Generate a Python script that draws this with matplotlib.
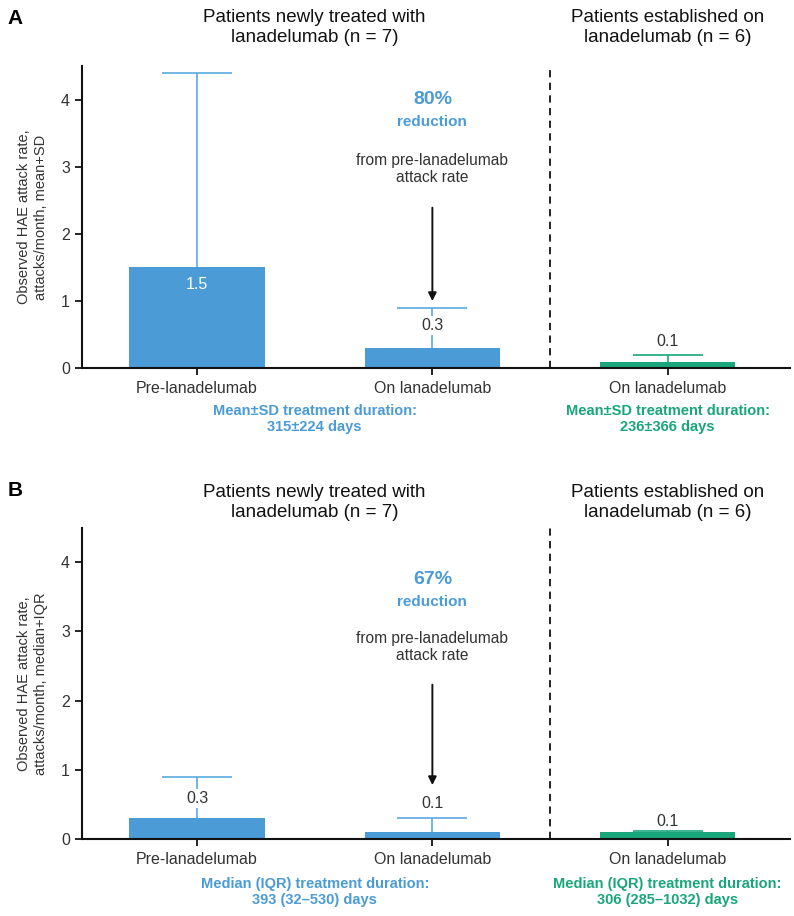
import matplotlib
matplotlib.use("Agg")
import matplotlib.pyplot as plt
import numpy as np

plt.rcParams['font.family'] = ['Liberation Sans', 'DejaVu Sans']

categories = ['Pre-lanadelumab', 'On lanadelumab', 'On lanadelumab']
mean_a = [1.5, 0.3, 0.1]
sd_upper_a = [4.4, 0.9, 0.2]
median_b = [0.3, 0.1, 0.1]
iqr_upper_b = [0.9, 0.3, 0.11]
value_labels_a = ['1.5', '0.3', '0.1']
value_labels_b = ['0.3', '0.1', '0.1']
reduction_a = '80%'
reduction_b = '67%'
group_titles = ['Patients newly treated with\nlanadelumab (n = 7)',
                'Patients established on\nlanadelumab (n = 6)']
duration_a = ['Mean\u00b1SD treatment duration:\n315\u00b1224 days',
              'Mean\u00b1SD treatment duration:\n236\u00b1366 days']
duration_b = ['Median (IQR) treatment duration:\n393 (32\u2013530) days',
              'Median (IQR) treatment duration:\n306 (285\u20131032) days']
ylabel_a = 'Observed HAE attack rate,\nattacks/month, mean+SD'
ylabel_b = 'Observed HAE attack rate,\nattacks/month, median+IQR'

BLUE = '#4a9bd6'
ERR_BLUE = '#5aaae2'
GREEN = '#19a67a'
DARK = '#333333'
bar_colors = [BLUE, BLUE, GREEN]
err_colors = [ERR_BLUE, ERR_BLUE, GREEN]

fig = plt.figure(figsize=(7.94, 9.16), dpi=100)
axA = fig.add_axes([0.103, 0.598, 0.892, 0.330])
axB = fig.add_axes([0.103, 0.084, 0.892, 0.340])

x = np.arange(len(categories))


def draw(ax, vals, uppers, labels, label_y, label_white, label_bg, red_txt, red_y,
         title_y, dur_txt, dur_y, ylabel):
    ax.bar(x, vals, width=0.575, color=bar_colors, zorder=2)
    for i in range(len(x)):
        eb = ax.errorbar(x[i], vals[i], yerr=[[0], [uppers[i] - vals[i]]], fmt='none',
                         ecolor=err_colors[i], elinewidth=1.2, capsize=25,
                         capthick=1.2, zorder=3)
        caps = eb[1]
        if len(caps) > 1:
            caps[0].set_visible(False)
        kw = dict(ha='center', va='center', fontsize=11.5, zorder=5)
        if label_white[i]:
            ax.text(x[i], label_y[i], labels[i], color='white', **kw)
        elif label_bg[i]:
            ax.text(x[i], label_y[i], labels[i], color=DARK,
                    bbox=dict(facecolor='white', edgecolor='none', pad=1.5), **kw)
        else:
            ax.text(x[i], label_y[i], labels[i], color=DARK, **kw)
    ax.set_xlim(-0.49, 2.52)
    ax.set_ylim(0, 4.5)
    ax.set_yticks([0, 1, 2, 3, 4])
    ax.set_xticks(x)
    ax.set_xticklabels(categories, fontsize=11.5, color=DARK)
    ax.tick_params(axis='y', labelsize=11.5, labelcolor=DARK, length=5, width=1.2)
    ax.tick_params(axis='x', length=5, width=1.2, pad=4)
    for s in ['top', 'right']:
        ax.spines[s].set_visible(False)
    for s in ['left', 'bottom']:
        ax.spines[s].set_linewidth(1.5)
        ax.spines[s].set_color('#111111')
    ax.axvline(1.5, ymin=0, ymax=1, color='#111111', linestyle=(0, (4, 3)), lw=1.3)
    ax.set_ylabel(ylabel, fontsize=10.5, color=DARK, labelpad=9, linespacing=1.35)
    # reduction annotation
    ax.text(1, red_y[0], red_txt, ha='center', va='center', fontsize=14,
            fontweight='bold', color=BLUE)
    ax.text(1, red_y[1], 'reduction', ha='center', va='center', fontsize=11,
            fontweight='bold', color=BLUE)
    ax.text(1, red_y[2], 'from pre-lanadelumab\nattack rate', ha='center',
            va='center', fontsize=11.2, color=DARK, linespacing=1.15)
    ax.annotate('', xy=(1, red_y[4]), xytext=(1, red_y[3]),
                arrowprops=dict(arrowstyle='-|>', color='#111111', lw=1.4,
                                mutation_scale=12, shrinkA=0, shrinkB=0))
    # group titles
    ax.text(0.5, title_y, group_titles[0], ha='center', va='center', fontsize=13.5,
            color='#111111', clip_on=False, linespacing=1.25)
    ax.text(2, title_y, group_titles[1], ha='center', va='center', fontsize=13.5,
            color='#111111', clip_on=False, linespacing=1.25)
    # durations
    ax.text(0.5, dur_y, dur_txt[0], ha='center', va='center', fontsize=10.5,
            fontweight='bold', color=BLUE, clip_on=False, linespacing=1.2,
            family=['Liberation Sans Narrow', 'Liberation Sans'])
    ax.text(2, dur_y, dur_txt[1], ha='center', va='center', fontsize=10.5,
            fontweight='bold', color=GREEN, clip_on=False, linespacing=1.2,
            family=['Liberation Sans Narrow', 'Liberation Sans'])


draw(axA, mean_a, sd_upper_a, value_labels_a, [1.25, 0.64, 0.40],
     [True, False, False], [False, True, False], reduction_a,
     [4.0, 3.67, 2.97, 2.39, 1.0], 5.07, duration_a, -0.75, ylabel_a)
draw(axB, median_b, iqr_upper_b, value_labels_b, [0.58, 0.52, 0.25],
     [False, False, False], [True, False, False], reduction_b,
     [3.75, 3.43, 2.78, 2.23, 0.78], 4.86, duration_b, -0.77, ylabel_b)

fig.text(0.010, 0.980, 'A', fontsize=15, fontweight='bold', ha='left', va='center')
fig.text(0.010, 0.465, 'B', fontsize=15, fontweight='bold', ha='left', va='center')

fig.savefig('out.png', dpi=100)
